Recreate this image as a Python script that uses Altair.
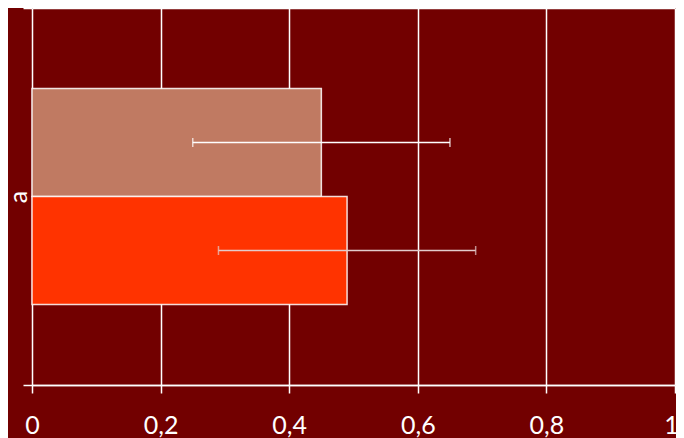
import altair as alt
import pandas as pd

categories = ["a", "a"]
series = ["s1", "s2"]
values = [0.45, 0.49]
lower = [0.25, 0.29]
upper = [0.65, 0.69]

df = pd.DataFrame({"cat": categories, "series": series, "value": values,
                   "lo": lower, "hi": upper})

bar_colors = ["#c07a62", "#ff3300"]
err_colors = ["#ffffff", "#e2cccc"]

y_enc = alt.Y("cat:N", title=None,
              scale=alt.Scale(paddingInner=0, paddingOuter=0),
              axis=alt.Axis(labelAngle=-90, labelFontSize=25, labelColor="white",
                            labelFont="Lato", labelPadding=5, tickSize=9,
                            tickColor="white", tickWidth=1.5, tickBand="extent",
                            domain=False, grid=True, gridColor="white",
                            gridWidth=1.5, labelBaseline="middle"))
yoff = alt.YOffset("series:N", scale=alt.Scale(paddingInner=0, paddingOuter=0.745))
x_scale = alt.Scale(domain=[0, 1], nice=False)

bars = alt.Chart(df).mark_bar(stroke="white", strokeWidth=1.5, strokeOpacity=0.85).encode(
    x=alt.X("value:Q", scale=x_scale, title=None,
            axis=alt.Axis(values=[0, 0.2, 0.4, 0.6, 0.8, 1],
                          labelExpr="replace(format(datum.value, '~g'), '.', ',')",
                          labelFontSize=25, labelColor="white", labelFont="Lato",
                          labelOffset={"condition": {"test": "datum.value == 1", "value": -4}, "value": 0},
                          labelPadding=20, tickSize=8, tickColor="white",
                          tickWidth=1.5, domainColor="white", domainWidth=1.5,
                          gridColor="white", gridWidth=1.5, labelFlush=False)),
    y=y_enc,
    yOffset=yoff,
    color=alt.Color("series:N", scale=alt.Scale(domain=series, range=bar_colors), legend=None),
)

rules = alt.Chart(df).mark_rule(strokeWidth=1.5).encode(
    x="lo:Q", x2="hi:Q", y="cat:N", yOffset=yoff,
    color=alt.Color("series:N", scale=alt.Scale(domain=series, range=err_colors), legend=None),
)

caps_lo = alt.Chart(df).mark_tick(thickness=1.5, size=9, orient="vertical").encode(
    x="lo:Q", y="cat:N", yOffset=yoff,
    color=alt.Color("series:N", scale=alt.Scale(domain=series, range=err_colors), legend=None),
)
caps_hi = alt.Chart(df).mark_tick(thickness=1.5, size=9, orient="vertical").encode(
    x="hi:Q", y="cat:N", yOffset=yoff,
    color=alt.Color("series:N", scale=alt.Scale(domain=series, range=err_colors), legend=None),
)

chart = alt.layer(bars, rules, caps_lo, caps_hi).resolve_scale(color="independent").properties(
    width=643, height=377,
    background="#720000",
    padding={"left": 24, "top": 0, "right": 1, "bottom": 60},
    autosize=alt.AutoSizeParams(type="none"),
).configure_view(stroke=None, fill="#720000")

chart.save("out.html", embed_options={"renderer": "svg", "actions": False})
